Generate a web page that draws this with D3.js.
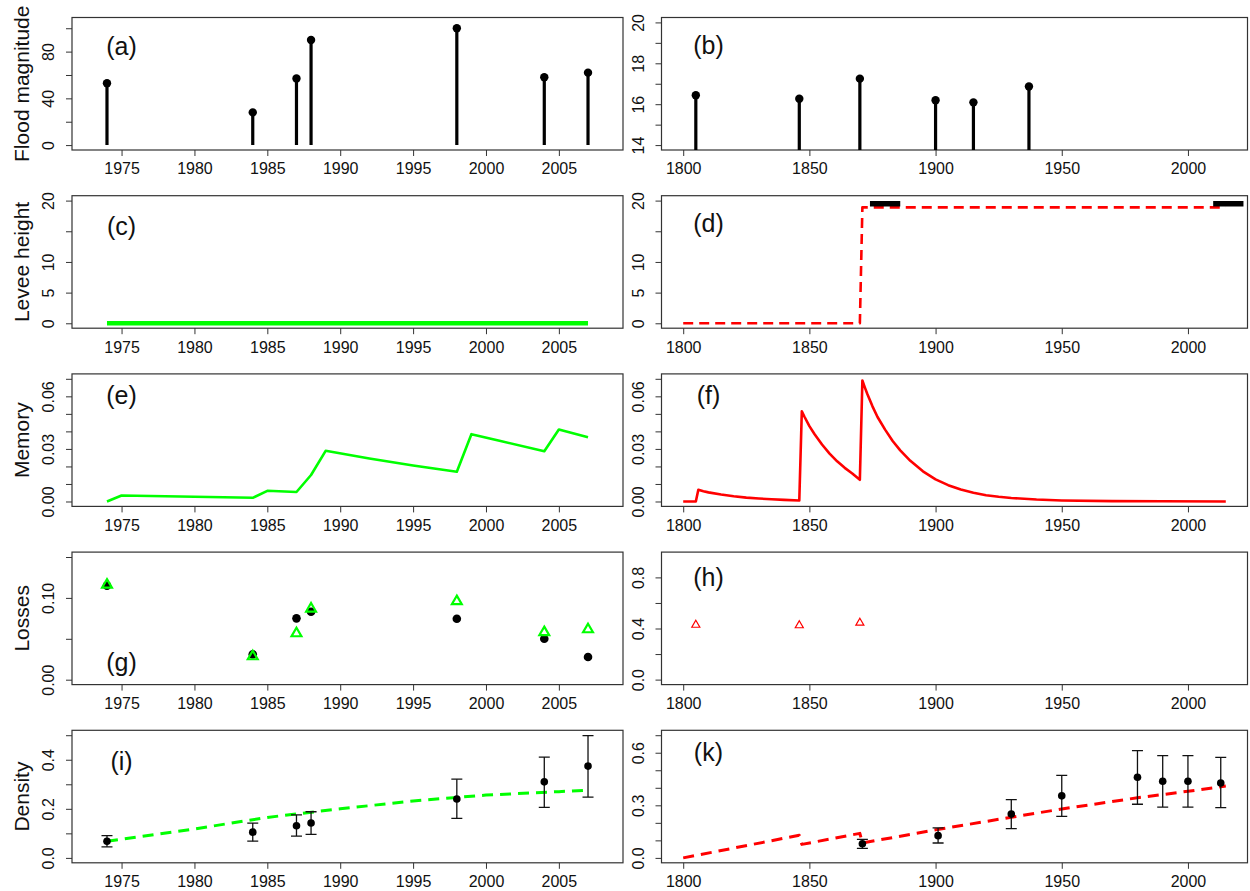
<!DOCTYPE html>
<html>
<head>
<meta charset="utf-8">
<script src="https://cdn.jsdelivr.net/npm/d3@7"></script>
<style>
  body { margin: 0; background: #fff; }
  svg { display: block; font-family: "Liberation Sans", Arial, sans-serif; }
</style>
</head>
<body>
<svg id="chart" width="1250" height="891"></svg>
<script>
// -----------------------
// Data
// -----------------------
const floodYearsA = [1974, 1984, 1987, 1988, 1998, 2004, 2007];
const floodMagA = [53, 28, 57, 90, 100, 58, 62];
const floodYearsB = [1805, 1846, 1870, 1900, 1915, 1937];
const floodMagB = [16.44, 16.27, 17.25, 16.19, 16.09, 16.87];

const leveeYearsC = [1974, 2007];
const leveeC = [0, 0];
const leveeYearsD = [1800, 1870, 1871, 2015];
const leveeD = [0, 0, 18.9, 18.9];
const obsLeveeFrom = [1874, 2010];
const obsLeveeTo = [1886, 2022];
const obsLevee = [19.5, 19.5];

const memYearsE = [1974, 1975, 1980, 1984, 1985, 1987, 1988, 1989, 1992, 1995, 1998, 1999, 2001, 2004, 2005, 2007];
const memE = [0, 0.0034, 0.0027, 0.0021, 0.0061, 0.0054, 0.0151, 0.0289, 0.0245, 0.0205, 0.0170, 0.0384, 0.0345, 0.0287, 0.0411, 0.0367];
const memYearsF = [1800, 1805, 1806, 1808, 1810, 1815, 1820, 1825, 1830, 1835, 1840, 1846,
  1847, 1848, 1850, 1852, 1855, 1858, 1861, 1864, 1867, 1870,
  1871, 1872, 1873, 1874, 1875, 1877, 1880, 1883, 1886, 1890, 1895, 1900, 1905, 1910, 1915,
  1920, 1925, 1930, 1940, 1950, 1970, 1990, 2015];
const memF = [0, 0, 0.0067, 0.0059, 0.0052, 0.0040, 0.0030, 0.0022, 0.0017, 0.0013, 0.0009, 0.0006,
  0.0515, 0.0485, 0.0430, 0.0385, 0.0325, 0.0273, 0.0229, 0.0192, 0.0160, 0.0124,
  0.0690, 0.0650, 0.0612, 0.0577, 0.0543, 0.0482, 0.0410, 0.0345, 0.0292, 0.0232, 0.0172, 0.0126, 0.0093, 0.0068, 0.0050,
  0.0036, 0.0027, 0.0020, 0.0011, 0.0006, 0.0002, 0.0001, 0.0000];

const lossObsG = [0.115, 0.031, 0.075, 0.083, 0.0745, 0.050, 0.0277];
const lossModG = [0.116, 0.0285, 0.0566, 0.0868, 0.0958, 0.0579, 0.0615];
const lossYearsH = [1805, 1846, 1870];
const lossModH = [0.428, 0.424, 0.444];

const densI = [0.068, 0.105, 0.131, 0.142, 0.240, 0.310, 0.374];
const densLoI = [0.045, 0.068, 0.089, 0.096, 0.161, 0.206, 0.248];
const densHiI = [0.091, 0.142, 0.175, 0.188, 0.321, 0.411, 0.498];
const densLineYearsI = [1974, 1980, 1985, 1990, 1995, 2000, 2005, 2007];
const densLineI = [0.068, 0.118, 0.165, 0.200, 0.232, 0.256, 0.270, 0.276];

const densYearsK = [1871, 1901, 1930, 1950, 1980, 1990, 2000, 2013];
const densK = [0.081, 0.127, 0.250, 0.354, 0.460, 0.437, 0.437, 0.427];
const densLoK = [0.054, 0.085, 0.167, 0.237, 0.306, 0.290, 0.290, 0.287];
const densHiK = [0.106, 0.171, 0.333, 0.471, 0.612, 0.583, 0.583, 0.573];
const densLineYearsK = [1800, 1846, 1847, 1870, 1871, 1900, 1930, 1950, 1980, 2000, 2015];
const densLineK = [0, 0.129, 0.077, 0.140, 0.085, 0.160, 0.232, 0.279, 0.343, 0.380, 0.410];

// tick values and labels
const xTicksLeft = [1975, 1980, 1985, 1990, 1995, 2000, 2005];
const xTicksRight = [1800, 1850, 1900, 1950, 2000];

// -----------------------
// Layout
// -----------------------
const svg = d3.select("#chart");
const rowH = 891 / 5;
const cols = [[72, 623], [661.5, 1247.5]];
const boxTop = 17.5, boxBottom = 150;
const xDomains = [[1971.6, 2009.4], [1791.4, 2023.6]];
const xTicks = [xTicksLeft, xTicksRight];
const GREEN = "#00ff00", RED = "#ff0000";

function panel(id, row, col, yDomain, yTicks, yLabels, ylab, tag, tagX, tagY) {
  const top = row * rowH + boxTop, bottom = row * rowH + boxBottom;
  const [x0, x1] = cols[col];
  const x = d3.scaleLinear().domain(xDomains[col]).range([x0, x1]);
  const y = d3.scaleLinear().domain(yDomain).range([bottom, top]);
  const g = svg.append("g");

  svg.append("clipPath").attr("id", "clip-" + id)
    .append("rect").attr("x", x0).attr("y", top).attr("width", x1 - x0).attr("height", bottom - top);

  const xa = g.append("g").attr("transform", `translate(0,${bottom})`)
    .call(d3.axisBottom(x).tickValues(xTicks[col]).tickFormat(d3.format("d")).tickSize(6).tickPadding(7));
  const ya = g.append("g").attr("transform", `translate(${x0},0)`)
    .call(d3.axisLeft(y).tickValues(yTicks).tickFormat((d, i) => yLabels[i]).tickSize(6));
  ya.selectAll("text")
    .attr("transform", "rotate(-90)")
    .attr("x", 0).attr("y", -18).attr("dy", 0)
    .attr("text-anchor", "middle");

  [xa, ya].forEach(a => {
    a.attr("font-family", "Liberation Sans, Arial, sans-serif").attr("font-size", 16);
    a.select(".domain").remove();
    a.selectAll(".tick line").attr("stroke", "#333");
    a.selectAll(".tick text").attr("fill", "#111");
  });

  g.append("rect")
    .attr("x", x0).attr("y", top).attr("width", x1 - x0).attr("height", bottom - top)
    .attr("fill", "none").attr("stroke", "#333").attr("stroke-width", 1.2);

  if (ylab) {
    g.append("text")
      .attr("transform", `translate(${x0 - 43},${(top + bottom) / 2}) rotate(-90)`)
      .attr("text-anchor", "middle")
      .attr("font-size", 21).attr("fill", "#111")
      .text(ylab);
  }

  g.append("text")
    .attr("x", x(tagX)).attr("y", y(tagY)).attr("dy", "0.35em")
    .attr("text-anchor", "middle").attr("font-size", 25).attr("fill", "#111")
    .text(tag);

  const plot = svg.append("g").attr("clip-path", `url(#clip-${id})`);
  return { x, y, plot };
}

function stems(p, years, vals) {
  p.plot.selectAll(null).data(years).join("line")
    .attr("x1", d => p.x(d)).attr("x2", d => p.x(d))
    .attr("y1", p.y(0)).attr("y2", (d, i) => p.y(vals[i]))
    .attr("stroke", "#000").attr("stroke-width", 3.2);
  p.plot.selectAll(null).data(years).join("circle")
    .attr("cx", d => p.x(d)).attr("cy", (d, i) => p.y(vals[i]))
    .attr("r", 4.2).attr("fill", "#000");
}

function path(p, years, vals, color, width, dash) {
  const line = d3.line().x(d => p.x(d[0])).y(d => p.y(d[1]));
  p.plot.append("path")
    .datum(years.map((d, i) => [d, vals[i]]))
    .attr("d", line)
    .attr("fill", "none").attr("stroke", color).attr("stroke-width", width)
    .attr("stroke-linejoin", "round")
    .attr("stroke-dasharray", dash || null);
}

function errorBars(p, years, vals, lo, hi) {
  const cap = 5.5;
  const g = p.plot.append("g").attr("stroke", "#111").attr("stroke-width", 1.3);
  years.forEach((yr, i) => {
    const cx = p.x(yr);
    g.append("line").attr("x1", cx).attr("x2", cx).attr("y1", p.y(lo[i])).attr("y2", p.y(hi[i]));
    g.append("line").attr("x1", cx - cap).attr("x2", cx + cap).attr("y1", p.y(lo[i])).attr("y2", p.y(lo[i]));
    g.append("line").attr("x1", cx - cap).attr("x2", cx + cap).attr("y1", p.y(hi[i])).attr("y2", p.y(hi[i]));
  });
  p.plot.selectAll(null).data(years).join("circle")
    .attr("cx", d => p.x(d)).attr("cy", (d, i) => p.y(vals[i]))
    .attr("r", 3.8).attr("fill", "#000");
}

function triangles(p, years, vals, color, size, width) {
  const sym = d3.symbol().type(d3.symbolTriangle).size(size);
  p.plot.selectAll(null).data(years).join("path")
    .attr("d", sym)
    .attr("transform", (d, i) => `translate(${p.x(d)},${p.y(vals[i])})`)
    .attr("fill", "none").attr("stroke", color).attr("stroke-width", width);
}

// -----------------------
// Row 1: flood magnitude
// -----------------------
const pa = panel("a", 0, 0, [-4.2, 109.2], [0, 20, 40, 60, 80, 100], ["0", "", "40", "", "80", ""],
  "Flood magnitude", "(a)", 1975, 85);
stems(pa, floodYearsA, floodMagA);

const pb = panel("b", 0, 1, [13.76, 20.24], [14, 15, 16, 17, 18, 19, 20], ["14", "", "16", "", "18", "", "20"],
  null, "(b)", 1810, 18.9);
stems(pb, floodYearsB, floodMagB);

// -----------------------
// Row 2: levee height
// -----------------------
const levTicks = [0, 5, 10, 15, 20], levLabels = ["0", "5", "10", "", "20"];
const pc = panel("c", 1, 0, [-0.8, 20.8], levTicks, levLabels, "Levee height", "(c)", 1975, 15.8);
path(pc, leveeYearsC, leveeC, GREEN, 4.5);

const pd = panel("d", 1, 1, [-0.8, 20.8], levTicks, levLabels, null, "(d)", 1810, 16.3);
path(pd, leveeYearsD, leveeD, RED, 2.6, "10,6");
obsLeveeFrom.forEach((d, i) => {
  pd.plot.append("line")
    .attr("x1", pd.x(d)).attr("x2", pd.x(obsLeveeTo[i]))
    .attr("y1", pd.y(obsLevee[i])).attr("y2", pd.y(obsLevee[i]))
    .attr("stroke", "#000").attr("stroke-width", 5.5);
});

// -----------------------
// Row 3: memory
// -----------------------
const memTicks = [0, 0.01, 0.02, 0.03, 0.04, 0.05, 0.06, 0.07];
const memLabels = ["0.00", "", "", "0.03", "", "", "0.06", ""];
const pe = panel("e", 2, 0, [-0.0028, 0.0728], memTicks, memLabels, "Memory", "(e)", 1975, 0.0605);
path(pe, memYearsE, memE, GREEN, 2.6);

const pf = panel("f", 2, 1, [-0.0028, 0.0728], memTicks, memLabels, null, "(f)", 1810, 0.0605);
path(pf, memYearsF, memF, RED, 2.6);

// -----------------------
// Row 4: losses
// -----------------------
const pg = panel("g", 3, 0, [-0.006, 0.156], [0, 0.05, 0.10, 0.15], ["0.00", "", "0.10", ""],
  "Losses", "(g)", 1975, 0.021);
pg.plot.selectAll(null).data(floodYearsA).join("circle")
  .attr("cx", d => pg.x(d)).attr("cy", (d, i) => pg.y(lossObsG[i]))
  .attr("r", 4.3).attr("fill", "#000");
triangles(pg, floodYearsA, lossModG, GREEN, 42, 2.2);

const ph = panel("h", 3, 1, [-0.039, 0.998], [0, 0.2, 0.4, 0.6, 0.8], ["0.0", "", "0.4", "", "0.8"],
  null, "(h)", 1810, 0.8);
triangles(ph, lossYearsH, lossModH, RED, 28, 1.2);

// -----------------------
// Row 5: density
// -----------------------
const pi = panel("i", 4, 0, [-0.02, 0.52], [0, 0.1, 0.2, 0.3, 0.4, 0.5], ["0.0", "", "0.2", "", "0.4", ""],
  "Density", "(i)", 1975, 0.395);
path(pi, densLineYearsI, densLineI, GREEN, 3, "11,7");
errorBars(pi, floodYearsA, densI, densLoI, densHiI);

const pk = panel("k", 4, 1, [-0.028, 0.728], [0, 0.1, 0.2, 0.3, 0.4, 0.5, 0.6, 0.7],
  ["0.0", "", "", "0.3", "", "", "0.6", ""], null, "(k)", 1810, 0.6);
path(pk, densLineYearsK, densLineK, RED, 3, "11,7");
errorBars(pk, densYearsK, densK, densLoK, densHiK);
</script>
</body>
</html>
